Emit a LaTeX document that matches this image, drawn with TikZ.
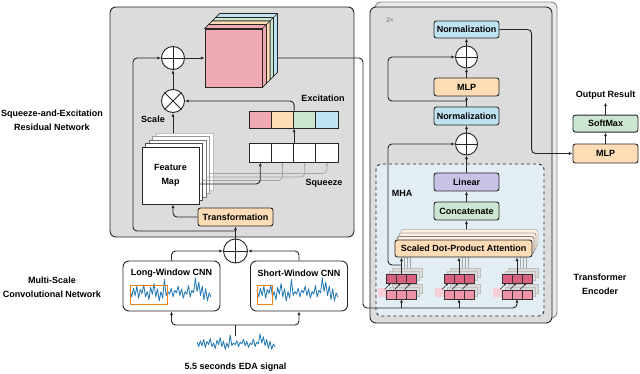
\documentclass[tikz,border=0pt]{standalone}
\usepackage{fontspec}
\setmainfont{Liberation Sans}
\usepackage{tikz}
\usetikzlibrary{arrows.meta, positioning, calc}

\definecolor{cbox}{HTML}{DCDCDC}
\definecolor{cboxb}{HTML}{E9E9E9}
\definecolor{cmha}{HTML}{E2EEF4}
\definecolor{cpink}{HTML}{EFA9B2}
\definecolor{corange}{HTML}{FDDCB6}
\definecolor{cgreen}{HTML}{CDE6D1}
\definecolor{cblue}{HTML}{C0E3F3}
\definecolor{cpurple}{HTML}{C8C2E6}
\definecolor{ctokA}{HTML}{D8627F}
\definecolor{ctokB}{HTML}{EF94A8}
\definecolor{csig}{HTML}{1F77B4}
\definecolor{cwin}{HTML}{F07F1E}

% EDA trace: lower left corner (#1,#2), x step #3, height #4
\newcommand{\edasig}[4]{%
  \draw[sig, shift={(#1,#2)}, xscale=#3, yscale=-#4] plot coordinates {
    (0,.55) (1,.3) (2,.62) (3,.35) (4,.7) (5,.25) (6,.58) (7,.42) (8,.75) (9,.3)
    (10,.5) (11,.2) (12,.65) (13,.4) (14,.8) (15,.3) (16,.6) (17,.15) (18,.5) (19,.25)
    (20,.95) (21,.35) (22,.5) (23,.4) (24,.62) (25,.3) (26,.55) (27,.45) (28,.7) (29,.35)
    (30,.6) (31,.25) (32,.5) (33,.4) (34,.72) (35,.3) (36,.55) (37,.45) (38,1) (39,.5)
    (40,.85) (41,.35) (42,.7) (43,.2) (44,.6) (45,.15) (46,.45) (47,.3)};}

\begin{document}
\begin{tikzpicture}[
        x=1pt, y=-1pt,
        font=\fontsize{9}{14}\selectfont\bfseries,
        every node/.style={align=center},
        panel/.style={rounded corners=6pt, draw=black!85, line width=0.9pt, fill=cbox},
        block/.style={
            rectangle, rounded corners=2.5pt,
            draw=black!85, line width=0.9pt,
            minimum width=65pt, minimum height=18pt, inner sep=1pt
        },
        cnnbox/.style={
            rectangle, rounded corners=6pt,
            draw=black!85, line width=0.9pt, fill=white,
            minimum width=97pt, minimum height=50pt
        },
        sumop/.style={circle, draw=black!85, line width=0.9pt, fill=white, minimum size=23pt, inner sep=0pt},
        cell/.style={rectangle, draw=black!85, line width=0.9pt, minimum width=22.25pt, minimum height=17pt, inner sep=0pt},
        fmlayer/.style={rectangle, draw=black!85, line width=0.9pt, fill=white, minimum width=57pt, minimum height=57pt},
        slab/.style={draw=black!85, line width=0.7pt, line join=round},
        tok/.style={rectangle, draw=black!80, line width=0.6pt, minimum width=9.6pt, minimum height=8.6pt, inner sep=0pt},
        capt/.style={font=\fontsize{9}{14}\selectfont\bfseries},
        sig/.style={csig, line width=0.8pt, line join=round},
        win/.style={cwin, line width=1pt},
        wire/.style={line width=0.9pt, black!85},
        arr/.style={-{Latex[length=3.6pt,width=3pt]}, line width=0.9pt, black!85},
        garr/.style={-{Latex[length=3pt,width=2.5pt]}, line width=0.7pt, black!35},
        tarr/.style={-{Latex[length=2pt,width=2pt]}, line width=0.5pt, black!85}
    ]
    \useasboundingbox (0,0) rectangle (640,374);

    % panels
    \draw[panel] (110,7) rectangle (354,237);
    \draw[panel, fill=cboxb, draw=black!45] (375,2) rectangle (557,318);
    \draw[panel] (370,7) rectangle (552,323);
    \draw[panel, fill=cmha, dashed, rounded corners=5pt] (376,164) rectangle (544,316);

    % side captions
    \node[capt] (selbl) at (52,120) {Squeeze-and-Excitation\\Residual Network};
    \node[capt] (mslbl) at (52,287) {Multi-Scale\\Convolutional Network};
    \node[capt] (telbl) at (600,284) {Transformer\\Encoder};

    % squeeze-and-excitation block
    \node[sumop] (oA) at (173,58) {};
    \node[sumop] (oM) at (173,101) {};
    \node[rectangle, draw=black!85, line width=0.9pt, fill=cpink, minimum width=57pt, minimum height=58pt] (cube) at (233.5,58) {};
    \foreach \da/\db/\col in {11/15/cblue, 7.5/11/cgreen, 4/7.5/corange, 0/4/cpink} {
        \draw[slab, fill=\col] ($(cube.north west)+(\da,-\da)$) -- ($(cube.north west)+(\db,-\db)$)
            -- ($(cube.north east)+(\db,-\db)$) -- ($(cube.south east)+(\db,-\db)$)
            -- ($(cube.south east)+(\da,-\da)$) -- ($(cube.north east)+(\da,-\da)$) -- cycle;
        \draw[slab] ($(cube.north east)+(\da,-\da)$) -- ($(cube.north east)+(\db,-\db)$);
    }

    \foreach \k/\c in {4/black!25, 3/black!40, 2/black!55, 1/black!70}
        \node[fmlayer, draw=\c] (fm\k) at (170.5+3.5*\k, 175.5-3.5*\k) {};
    \node[fmlayer] (fmap) at (170.5,175.5) {Feature\\Map};
    \node[block, fill=corange, minimum width=75pt] (trans) at (235.5,217) {Transformation};

    \foreach \c [count=\i] in {cpink, corange, cgreen, cblue}
        \node[cell, fill=\c] (ex\i) at (238+22.25*\i, 119.5) {};
    \foreach \i in {1,...,4}
        \node[cell, fill=white, minimum height=19pt] (sq\i) at (238+22.25*\i, 152.5) {};

    \node[capt] (exlbl) at (323,98) {Excitation};
    \node[capt] (sqlbl) at (324,183) {Squeeze};
    \node[capt] (sclbl) at (153,119) {Scale};

    \draw[arr] (oA.east) -- (oA.east -| cube.west);
    \draw[arr] (oM) -- (oA);
    \draw[arr] (oM |- fm4.north) -- (oM);
    \coordinate (sejoin) at (235.5,231);
    \coordinate (seres) at (133,231);
    \draw[arr, rounded corners=4pt] (sejoin) -- (seres) |- (oA.west);
    \draw[arr, rounded corners=4pt] (trans.west) -| (oM |- fmap.south);
    \foreach \k in {1,2,3} {
        \pgfmathtruncatemacro{\j}{\k+1}
        \draw[garr, rounded corners=4pt] ($(fm\k.east)+(0,8.5)$) -| (sq\j.south);
    }
    \draw[arr, rounded corners=4pt] ($(fmap.east)+(0,8.5)$) -| (sq1.south);
    \draw[arr] (sq2.north east) -- (ex2.south east);
    \draw[arr, rounded corners=4pt] (ex2.north east) |- (oM.east);

    % multi-scale CNN
    \node[sumop, minimum size=24pt] (oB) at (235.5,251) {};
    \node[cnnbox] (longcnn) at (171.5,286) {};
    \node[cnnbox] (shortcnn) at (299,286) {};
    \node[capt] (longlbl) at (171.5,273) {Long-Window CNN};
    \node[capt] (shortlbl) at (299,273) {Short-Window CNN};
    \edasig{130}{305}{1.72}{27}
    \edasig{257}{305}{1.72}{27}
    \draw[win] (130,285) rectangle (167,304);
    \draw[win] (257,285) rectangle (272,304);

    \edasig{197}{352}{1.66}{18}
    \node[capt] (edalbl) at (235.5,367) {5.5 seconds EDA signal};
    \coordinate (edatop) at (235.5,336);
    \coordinate (split) at (235.5,325);
    \draw[wire] (edatop) -- (split);
    \draw[arr, rounded corners=4pt] (split) -| (longcnn.south);
    \draw[arr, rounded corners=4pt] (split) -| (shortcnn.south);
    \draw[arr, rounded corners=4pt] (longcnn.north) |- (oB.west);
    \draw[arr, rounded corners=4pt] (shortcnn.north) |- (oB.east);
    \draw[arr] (oB) -- (trans);

    % transformer encoder
    \node[font=\fontsize{6.5}{8}\selectfont, text=black!60] (rep) at (390,20) {2×};
    \node[block, fill=cblue, minimum height=17pt] (norm1) at (466.5,29.5) {Normalization};
    \node[sumop, minimum size=22pt] (oT1) at (466.5,57) {};
    \node[block, fill=corange] (mlp) at (466.5,87) {MLP};
    \node[block, fill=cblue] (norm2) at (466.5,116) {Normalization};
    \node[sumop, minimum size=22pt] (oT2) at (466.5,144) {};
    \node[block, fill=cpurple] (linear) at (466.5,182) {Linear};
    \node[block, fill=cgreen] (concat) at (466.5,211) {Concatenate};
    \node[capt] (mhalbl) at (402,193) {MHA};

    % token groups
    \foreach \g/\gx in {1/401.5, 2/459, 3/517} {
        \foreach \k in {1,2,3}
            \draw[garr] (\gx+3*\k, 275) -- (\gx+3*\k, 257-3.5*\k);
        \foreach \s in {6,3} {
            \draw[black!25, fill=black!14, line width=0.5pt] (\gx-15+\s, 274.5-\s) rectangle (\gx+15+\s, 283.5-\s);
            \draw[black!25, fill=black!14, line width=0.5pt] (\gx-15+\s, 290-\s) rectangle (\gx+15+\s, 299-\s);
        }
        \fill[ctokB!45] (\gx-24, 288) rectangle (\gx-15, 297);
        \foreach \i in {1,2,3} {
            \node[tok, fill=ctokA] (g\g-t\i) at (\gx+10*\i-20, 279) {};
            \node[tok, fill=ctokB] (g\g-b\i) at (\gx+10*\i-20, 294.5) {};
            \draw[tarr] (\gx+10*\i-27, 289.5) -- (\gx+10*\i-21, 283.5);
        }
    }

    \foreach \k/\c in {3/black!25, 2/black!35, 1/black!50}
        \node[block, fill=corange!45, draw=\c, minimum width=137pt, minimum height=17pt] (sdpa\k) at (463.5+2*\k, 248.5-3.5*\k) {};
    \node[block, fill=corange, minimum width=137pt, minimum height=17pt] (sdpa) at (463.5,248.5) {Scaled Dot-Product Attention};

    \foreach \g in {1,2,3}
        \draw[arr] (g\g-t2.north) -- (g\g-t2.north |- sdpa.south);

    \coordinate (tin1) at (363,58);
    \coordinate (tin2) at (363,308);
    \draw[arr, rounded corners=4pt] ($(cube.east)+(15,0)$) -- (tin1) -- (tin2) -| (g3-b2.south);
    \draw[arr] (g1-b2.south |- tin2) -- (g1-b2.south);
    \draw[arr] (g2-b2.south |- tin2) -- (g2-b2.south);

    \coordinate (resA) at (388,265);
    \coordinate (resB) at (388,101);
    \draw[arr, rounded corners=4pt] (g1-t2.north |- resA) -- (resA) |- (oT2.west);
    \draw[arr, rounded corners=4pt] (norm2.north |- resB) -- (resB) |- (oT1.west);

    \draw[arr] (sdpa3.north -| concat.south) -- (concat);
    \draw[arr] (concat) -- (linear);
    \draw[arr] (linear) -- (oT2);
    \draw[arr] (oT2) -- (norm2);
    \draw[arr] (norm2) -- (mlp);
    \draw[arr] (mlp) -- (oT1);
    \draw[arr] (oT1) -- (norm1);

    % output head
    \node[block, fill=corange, minimum height=19pt] (mlpout) at (605.5,153.5) {MLP};
    \node[block, fill=cgreen, minimum height=17pt, above=11pt of mlpout] (softmax) {SoftMax};
    \node[capt, above=12pt of softmax] (outlbl) {Output Result};
    \draw[arr, rounded corners=4pt] (norm1.east) -| ($(mlpout.west)+(-41,0)$) -- (mlpout.west);
    \draw[arr] (mlpout) -- (softmax);
    \draw[arr] (softmax) -- (outlbl);

    % crosses in the operators
    \foreach \o in {oA, oB, oT1, oT2}
        \draw[wire] (\o.north) -- (\o.south) (\o.west) -- (\o.east);
    \draw[wire] (oM.north west) -- (oM.south east) (oM.north east) -- (oM.south west);
\end{tikzpicture}
\end{document}
